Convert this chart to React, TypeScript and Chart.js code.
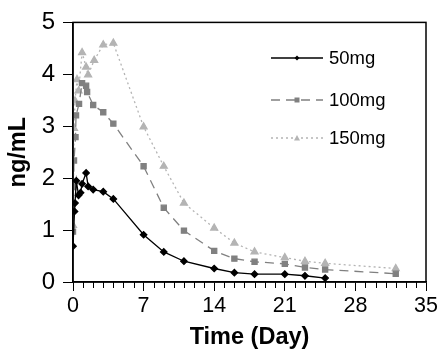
import React, { useEffect, useRef } from "react";
import { Chart, registerables } from "chart.js";

Chart.register(...registerables);

const seriesNames = ["50mg", "100mg", "150mg"];

const days50 = [0, 0.15, 0.2, 0.33, 0.55, 0.75, 0.9, 1.3, 1.5, 2, 3, 4, 7, 9, 11, 14, 16, 18, 21, 23, 25];
const vals50 = [0.69, 1.36, 1.52, 1.95, 1.67, 1.72, 1.89, 2.1, 1.84, 1.78, 1.74, 1.6, 0.91, 0.58, 0.4, 0.26, 0.18, 0.15, 0.15, 0.12, 0.075];

const days100 = [0, 0.05, 0.1, 0.25, 0.3, 0.6, 0.9, 1.3, 1.4, 2, 3, 4, 7, 9, 11, 14, 16, 18, 21, 23, 25, 32];
const vals100 = [0.97, 1.83, 2.34, 2.79, 3.21, 3.43, 3.83, 3.78, 3.66, 3.41, 3.27, 3.05, 2.23, 1.43, 0.99, 0.6, 0.45, 0.39, 0.35, 0.28, 0.24, 0.16];

const days150 = [0, 0.05, 0.1, 0.2, 0.4, 0.55, 0.9, 1.3, 1.5, 2.1, 3, 4, 7, 9, 11, 14, 16, 18, 21, 23, 25, 32];
const vals150 = [1.09, 1.85, 2.96, 3.49, 3.9, 3.68, 4.42, 4.14, 3.99, 4.27, 4.57, 4.6, 2.99, 2.23, 1.52, 1.04, 0.75, 0.58, 0.47, 0.4, 0.36, 0.26];

const xTickStep = 7;
const yTickStep = 1;

const FONT = "'Liberation Sans', Arial, sans-serif";

const toPoints = (xs: number[], ys: number[]) => xs.map((x, i) => ({ x, y: ys[i] }));

const frameAndTicks = {
  id: "frameAndTicks",
  afterDraw(chart: any) {
    const { ctx, chartArea } = chart;
    const xs = chart.scales.x;
    ctx.save();
    ctx.strokeStyle = "#000";
    ctx.lineWidth = 1.5;
    ctx.strokeRect(chartArea.left, chartArea.top, chartArea.right - chartArea.left, chartArea.bottom - chartArea.top);
    ctx.lineWidth = 1;
    for (let d = 0; d <= 35; d++) {
      if (d % 7 === 0) continue;
      const px = Math.round(xs.getPixelForValue(d)) + 0.5;
      ctx.beginPath();
      ctx.moveTo(px, chartArea.bottom);
      ctx.lineTo(px, chartArea.bottom + 6);
      ctx.stroke();
    }
    ctx.restore();
  },
};

const customLegend = {
  id: "customLegend",
  afterDraw(chart: any) {
    const { ctx } = chart;
    const x0 = 271, x1 = 323, tx = 329;
    const rows = [58, 100, 138];
    chart.data.datasets.forEach((ds: any, i: number) => {
      const y = rows[i];
      ctx.save();
      ctx.strokeStyle = ds.borderColor;
      ctx.lineWidth = ds.borderWidth;
      ctx.setLineDash(ds.borderDash || []);
      ctx.beginPath();
      ctx.moveTo(x0, y);
      ctx.lineTo(x1, y);
      ctx.stroke();
      ctx.setLineDash([]);
      ctx.fillStyle = ds.pointBackgroundColor;
      const cx = (x0 + x1) / 2;
      const r = 2.5;
      ctx.beginPath();
      if (ds.pointStyle === "rectRot") {
        ctx.moveTo(cx, y - r); ctx.lineTo(cx + r, y); ctx.lineTo(cx, y + r); ctx.lineTo(cx - r, y);
      } else if (ds.pointStyle === "rect") {
        ctx.rect(cx - r, y - r, 2 * r, 2 * r);
      } else {
        ctx.moveTo(cx, y - r - 0.5); ctx.lineTo(cx + r + 0.5, y + r); ctx.lineTo(cx - r - 0.5, y + r);
      }
      ctx.closePath();
      ctx.fill();
      ctx.fillStyle = "#000";
      ctx.font = `18.5px ${FONT}`;
      ctx.textBaseline = "middle";
      ctx.textAlign = "left";
      ctx.fillText(seriesNames[i], tx, y + 1);
      ctx.restore();
    });
  },
};

export default function App() {
  const ref = useRef<HTMLCanvasElement | null>(null);
  useEffect(() => {
    if (!ref.current) return;
    const chart = new Chart(ref.current, {
      type: "line",
      data: {
        datasets: [
          {
            label: seriesNames[0],
            data: toPoints(days50, vals50),
            borderColor: "#000000",
            backgroundColor: "#000000",
            pointBackgroundColor: "#000000",
            pointBorderColor: "#000000",
            borderWidth: 1.3,
            pointStyle: "rectRot",
            pointRadius: 3.2,
            tension: 0,
          },
          {
            label: seriesNames[1],
            data: toPoints(days100, vals100),
            borderColor: "#808080",
            backgroundColor: "#808080",
            pointBackgroundColor: "#808080",
            pointBorderColor: "#808080",
            borderWidth: 1.3,
            borderDash: [9, 6],
            pointStyle: "rect",
            pointRadius: 3.6,
            tension: 0,
          },
          {
            label: seriesNames[2],
            data: toPoints(days150, vals150),
            borderColor: "#b4b4b4",
            backgroundColor: "#b4b4b4",
            pointBackgroundColor: "#b4b4b4",
            pointBorderColor: "#b4b4b4",
            borderWidth: 1.3,
            borderDash: [2, 3],
            pointStyle: "triangle",
            pointRadius: 4,
            tension: 0,
          },
        ],
      },
      options: {
        animation: false,
        responsive: false,
        maintainAspectRatio: false,
        layout: { padding: { top: 14, right: 14, left: 0, bottom: 0 } },
        plugins: { legend: { display: false }, tooltip: { enabled: false } },
        scales: {
          x: {
            type: "linear",
            min: 0,
            max: 35,
            ticks: { stepSize: xTickStep, color: "#000", font: { family: FONT, size: 21.5 }, padding: 2, maxRotation: 0 },
            grid: { display: true, drawOnChartArea: false, tickLength: 9, color: "#000", lineWidth: 1 },
            border: { display: true, color: "#000", width: 1.5 },
            title: { display: true, text: "Time (Day)", color: "#000", font: { family: FONT, size: 23.5, weight: "bold" }, padding: { top: 0, bottom: 2 } },
            afterFit: (s: any) => { s.height = 72; },
          },
          y: {
            type: "linear",
            min: 0,
            max: 5,
            ticks: { stepSize: yTickStep, color: "#000", font: { family: FONT, size: 24 }, padding: 8 },
            grid: { display: true, drawOnChartArea: false, tickLength: 10, color: "#000", lineWidth: 1 },
            border: { display: true, color: "#000", width: 1.5 },
            title: { display: true, text: "ng/mL", color: "#000", font: { family: FONT, size: 23.5, weight: "bold" }, padding: { top: 4, bottom: 4 } },
            afterFit: (s: any) => { s.width = 73; },
          },
        },
      },
      plugins: [frameAndTicks, customLegend],
    } as any);
    return () => chart.destroy();
  }, []);
  return (
    <div style={{ position: "absolute", left: 0, top: 0, width: 440, height: 354, background: "#fff" }}>
      <canvas ref={ref} width={440} height={354} style={{ width: 440, height: 354, display: "block" }} />
    </div>
  );
}
